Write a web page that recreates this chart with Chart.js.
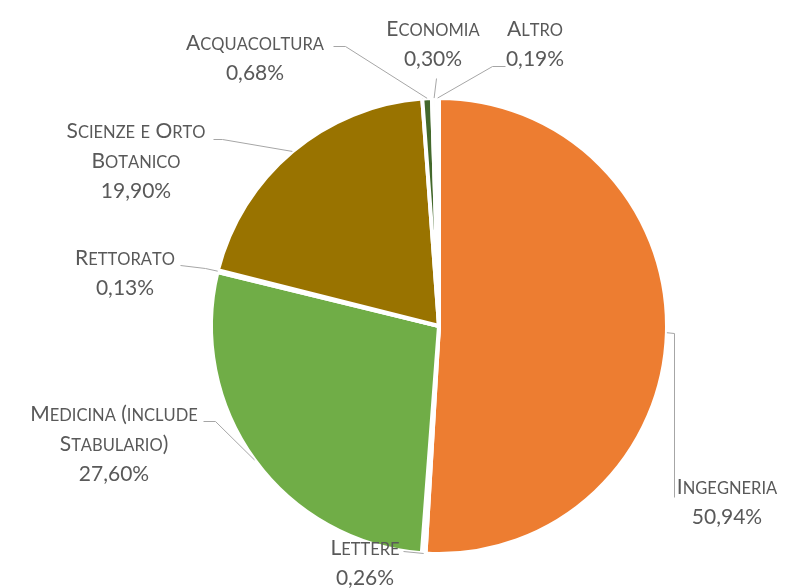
<!DOCTYPE html>
<html>
<head>
<meta charset="utf-8">
<script src="https://cdn.jsdelivr.net/npm/chart.js@4"></script>
<style>
  html, body { margin: 0; padding: 0; background: #fff; }
  #wrap { width: 794px; height: 588px; }
</style>
</head>
<body>
<div id="wrap"><canvas id="grafico-torta" width="794" height="588"></canvas></div>
<script>
// dati del grafico (ordine orario a partire dalle ore 12)
const categorie = ['Ingegneria', 'Lettere', 'Medicina (include Stabulario)', 'Rettorato',
  'Scienze e Orto Botanico', 'Acquacoltura', 'Economia', 'Altro'];
const percentuali = [50.94, 0.26, 27.60, 0.13, 19.90, 0.68, 0.30, 0.19];
const colori = ['#ED7D31', '#DEEBF7', '#70AD47', '#E2EFDA', '#997300', '#43682B', '#F2F2F2', '#EDEDED'];

// righe delle etichette (il nome va a capo come nell'originale)
const righeEtichette = [
  ['Ingegneria'],
  ['Lettere'],
  ['Medicina (include', 'Stabulario)'],
  ['Rettorato'],
  ['Scienze e Orto', 'Botanico'],
  ['Acquacoltura'],
  ['Economia'],
  ['Altro']
];

// posizione etichette: centro x, y prima riga; punti della linea guida lato etichetta
const posEtichette = [
  { x: 727, y: 487, guida: [[674, 497], [674, 333]] },
  { x: 365, y: 548, guida: [[403, 551]] },
  { x: 114, y: 414, guida: [[203, 421], [215, 421]] },
  { x: 125, y: 258, guida: [[180, 265], [205, 268]] },
  { x: 136, y: 131, guida: [[213, 139], [222, 139]] },
  { x: 255, y: 43,  guida: [[333, 46], [345, 46]] },
  { x: 433, y: 29,  guida: [[436, 78]] },
  { x: 535, y: 29,  guida: [[505, 66], [492, 66]] }
];

const FONT_GRANDE = 21;
const FONT_PICCOLO = 16.5;

function formatoPerc(v) {
  return v.toFixed(2).replace('.', ',') + '%';
}

// maiuscoletto fatto a mano: minuscole -> maiuscole più piccole
function pezziMaiuscoletto(testo) {
  return testo.split('').map(c => {
    const piccolo = c !== c.toUpperCase();
    return { t: c.toUpperCase(), size: piccolo ? FONT_PICCOLO : FONT_GRANDE };
  });
}

function scriviMaiuscoletto(ctx, testo, cx, cy) {
  const pezzi = pezziMaiuscoletto(testo);
  let tot = 0;
  pezzi.forEach(p => {
    ctx.font = p.size + 'px Lato';
    p.w = ctx.measureText(p.t).width;
    tot += p.w;
  });
  let x = cx - tot / 2;
  ctx.textAlign = 'left';
  ctx.textBaseline = 'alphabetic';
  pezzi.forEach(p => {
    ctx.font = p.size + 'px Lato';
    ctx.fillText(p.t, x, cy + 7);
    x += p.w;
  });
}

const pluginEtichette = {
  id: 'etichetteTorta',
  afterDatasetsDraw(chart) {
    const ctx = chart.ctx;
    const meta = chart.getDatasetMeta(0);
    ctx.save();
    meta.data.forEach((arc, i) => {
      const p = arc.getProps(['x', 'y', 'startAngle', 'endAngle', 'outerRadius'], true);
      const mid = (p.startAngle + p.endAngle) / 2;
      const ax = p.x + Math.cos(mid) * p.outerRadius;
      const ay = p.y + Math.sin(mid) * p.outerRadius;
      const pos = posEtichette[i];

      // linea guida
      ctx.strokeStyle = '#A6A6A6';
      ctx.lineWidth = 1;
      ctx.beginPath();
      pos.guida.forEach((pt, k) => {
        if (k === 0) ctx.moveTo(pt[0] + 0.5, pt[1] + 0.5);
        else ctx.lineTo(pt[0] + 0.5, pt[1] + 0.5);
      });
      ctx.lineTo(ax, ay);
      ctx.stroke();

      // testo
      ctx.fillStyle = '#595959';
      const righe = righeEtichette[i];
      righe.forEach((r, k) => scriviMaiuscoletto(ctx, r, pos.x, pos.y + k * 30));
      ctx.font = FONT_GRANDE + 'px Lato';
      ctx.textAlign = 'center';
      ctx.textBaseline = 'alphabetic';
      ctx.fillText(formatoPerc(percentuali[i]), pos.x, pos.y + righe.length * 30 + 7);
    });
    ctx.restore();
  }
};

new Chart(document.getElementById('grafico-torta'), {
  type: 'pie',
  data: {
    labels: categorie,
    datasets: [{
      data: percentuali,
      backgroundColor: colori,
      borderColor: '#ffffff',
      borderWidth: 4
    }]
  },
  options: {
    responsive: false,
    animation: false,
    layout: { padding: { top: 96, bottom: 32, left: 209, right: 125 } },
    plugins: {
      legend: { display: false },
      tooltip: { enabled: false }
    }
  },
  plugins: [pluginEtichette]
});
</script>
</body>
</html>
